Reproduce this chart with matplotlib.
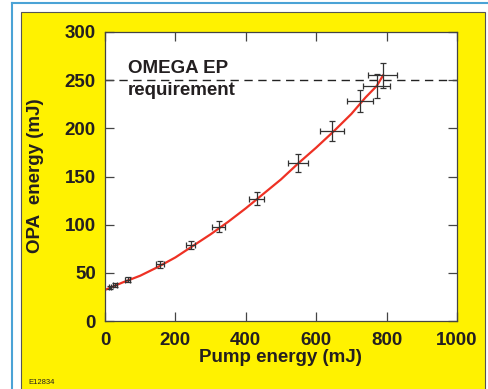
import matplotlib.pyplot as plt
from matplotlib.patches import Rectangle
from matplotlib.lines import Line2D

plt.rcParams['font.family'] = ['Liberation Sans', 'DejaVu Sans']

# Measured points (pump energy, OPA energy) with error bars
pump = [14, 28, 64, 156, 243, 323, 431, 549, 646, 724, 772, 789]
opa = [35, 37, 43, 59, 79, 98, 127, 164, 197, 228, 244, 255]
pump_err = [4, 5, 6, 12, 14, 19, 22, 29, 34, 37, 39, 41]
opa_err = [1.5, 2, 2.5, 3.5, 4, 6, 6.6, 9, 10.4, 11.4, 12, 13]

# Fitted curve
fit_x = [5, 50, 100, 150, 200, 250, 300, 350, 400, 450, 500, 550, 600, 650, 700, 740, 772, 790]
fit_y = [33, 40, 47, 56, 66, 78, 90, 103, 117, 132, 147, 164, 180, 197, 215, 232, 244, 255]

REQUIREMENT = 250
x_ticks = [0, 200, 400, 600, 800, 1000]
y_ticks = [0, 50, 100, 150, 200, 250, 300]

W, H = 488, 389
FS = 13.5
fig = plt.figure(figsize=(W / 100, H / 100), dpi=100)
fig.patch.set_facecolor('white')

# frame decoration (blue corner lines + yellow panel)
blue = '#4ba3d6'
fig.add_artist(Line2D([12 / W, 12 / W], [0, 1 - 3 / H], color=blue, lw=1.5, transform=fig.transFigure))
fig.add_artist(Line2D([12 / W, 1], [1 - 3 / H, 1 - 3 / H], color=blue, lw=1.5, transform=fig.transFigure))
fig.add_artist(Rectangle((21 / W, -0.01), (485 - 21) / W, 1 - 12 / H + 0.01,
                         facecolor='#fff200', edgecolor='#555555', lw=0.8,
                         transform=fig.transFigure, zorder=0))

ax = fig.add_axes([105 / W, 1 - 321 / H, (457 - 105) / W, (321 - 32) / H])
ax.set_facecolor('white')

ax.plot(fit_x, fit_y, color='#ee3124', lw=1.6, zorder=2)
ax.errorbar(pump, opa, xerr=pump_err, yerr=opa_err, fmt='none',
            ecolor='#333333', elinewidth=0.9, capsize=2, capthick=0.9, zorder=3)
ax.axhline(REQUIREMENT, color='#222222', lw=1, dashes=(6, 4), zorder=1)

ax.text(65, 262, 'OMEGA EP', fontsize=FS, fontweight='bold', color='#231f20', va='center')
ax.text(65, 239, 'requirement', fontsize=FS, fontweight='bold', color='#231f20', va='center')

ax.set_xlim(0, 1000)
ax.set_ylim(0, 300)
ax.set_xticks(x_ticks)
ax.set_yticks(y_ticks)
ax.tick_params(direction='in', length=6.5, width=0.9, color='#444444',
               top=True, right=True, labelsize=FS, labelcolor='#231f20')
ax.tick_params(axis='y', pad=6.5)
ax.tick_params(axis='x', pad=8)
for lab in ax.get_xticklabels() + ax.get_yticklabels():
    lab.set_fontweight('bold')
for s in ax.spines.values():
    s.set_color('#444444')
    s.set_linewidth(0.9)

fig.text(280 / W, 1 - 357 / H, 'Pump energy (mJ)', fontsize=FS, fontweight='bold',
         color='#231f20', ha='center', va='center')
fig.text(36 / W, 1 - 176 / H, 'OPA  energy (mJ)', fontsize=FS, fontweight='bold',
         color='#231f20', ha='center', va='center', rotation=90)
fig.text(28 / W, 1 - 383 / H, 'E12834', fontsize=5.5, color='#231f20', ha='left', va='center')

fig.savefig('out.png', dpi=100)
